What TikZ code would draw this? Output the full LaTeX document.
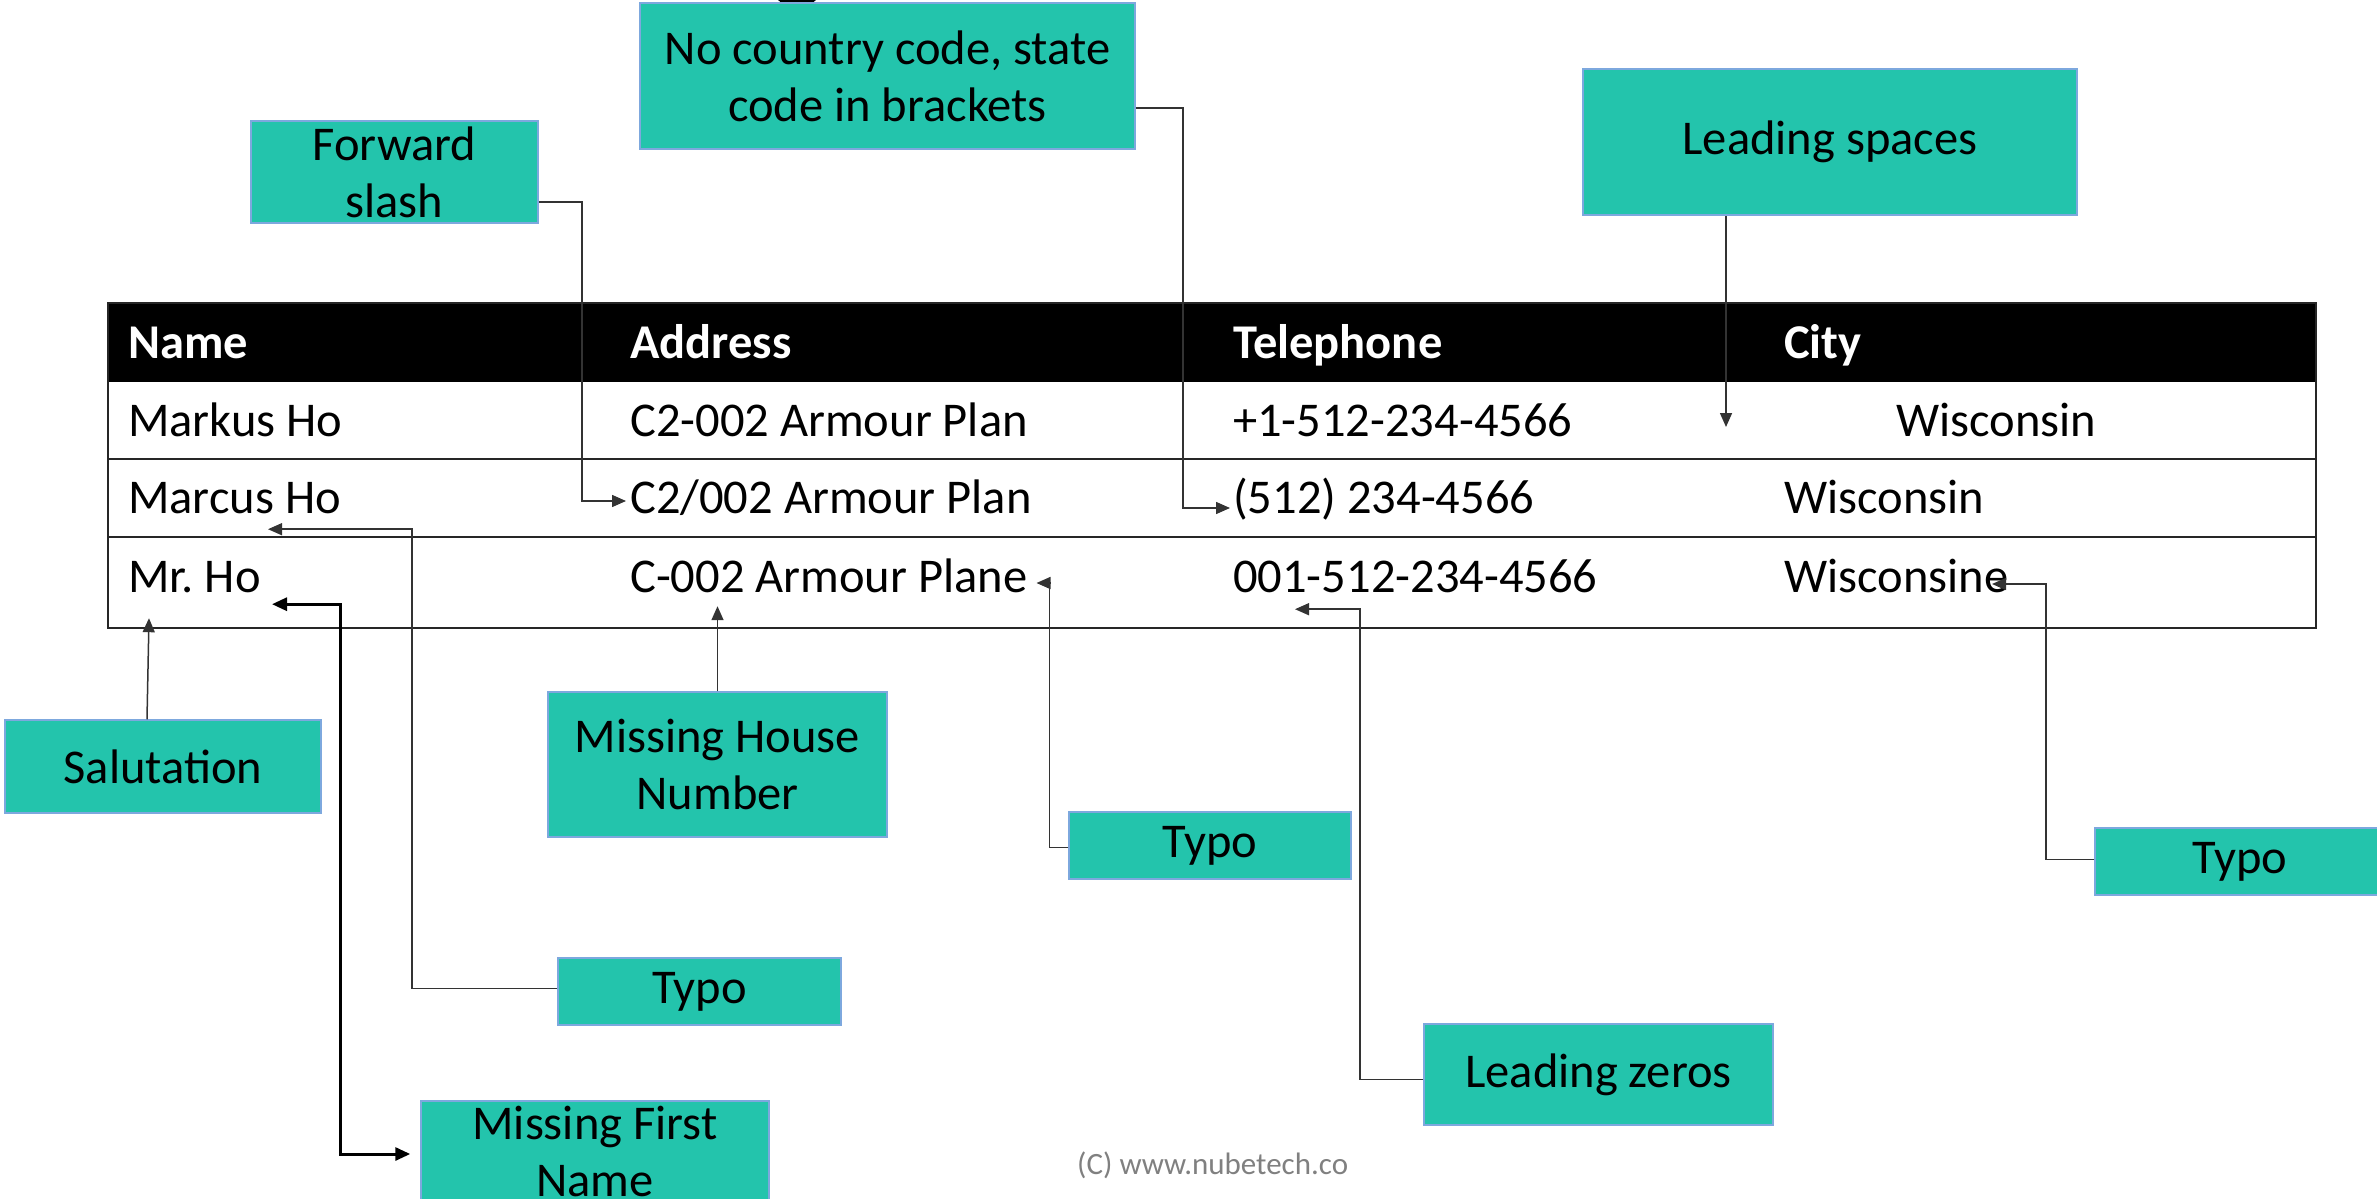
\documentclass[tikz,border=0pt]{standalone}
\usepackage{fontspec}
\setmainfont{Carlito}
\usepackage{xcolor}
\usepackage{tikz}
\usetikzlibrary{arrows.meta,calc}
\definecolor{calloutfill}{RGB}{35,196,172}
\definecolor{calloutedge}{RGB}{125,168,222}
\newcommand{\cellfont}{\fontsize{48.5}{56}\selectfont}
\newcommand{\notefont}{\fontsize{48.5}{57}\selectfont}
\frenchspacing
\tikzset{
  notebox/.style={draw=calloutedge, line width=1.5pt, fill=calloutfill, align=center, inner sep=3pt, font=\notefont},
  notearrow/.style={-{Triangle[length=14pt,width=12pt]}, line width=1.5pt, draw=black!80},
  notedouble/.style={{Triangle[length=15pt,width=13pt]}-{Triangle[length=15pt,width=13pt]}, line width=3pt},
  celltext/.style={anchor=base west, inner sep=0pt, text height=32pt, text depth=8pt, font=\cellfont},
  headtext/.style={celltext, text=white, font=\cellfont\bfseries},
  tableline/.style={draw=black!85, line width=2pt}
}

\begin{document}
\begin{tikzpicture}[x=1pt, y=-1pt]
  \useasboundingbox (0,0) rectangle (2377,1199);
  \clip (0,0) rectangle (2377,1199);

  \fill[black] (108,303) rectangle (2316,382);
  \draw[tableline] (108,303) rectangle (2316,628);
  \draw[tableline] (108,459) -- (2316,459);
  \draw[tableline] (108,537) -- (2316,537);
  \fill[black] (778,0) -- (816,0) -- (811,4) -- (783,4) -- cycle;

  \node[headtext] (hname) at (128,358) {Name};
  \node[headtext] (haddr) at (630,358) {Address};
  \node[headtext] (htel) at (1233,358) {Telephone};
  \node[headtext] (hcity) at (1784,358) {City};

  \node[celltext] (name1) at (128,436) {Markus Ho};
  \node[celltext] (addr1) at (630,436) {C2-002 Armour Plan};
  \node[celltext] (tel1) at (1233,436) {+1-512-234-4566};
  \node[celltext] (city1) at (1896,436) {Wisconsin};

  \node[celltext] (name2) at (128,513) {Marcus Ho};
  \node[celltext] (addr2) at (630,513) {C2/002 Armour Plan};
  \node[celltext] (tel2) at (1233,513) {(512) 234-4566};
  \node[celltext] (city2) at (1784,513) {Wisconsin};

  \node[celltext] (name3) at (128,592) {Mr. Ho};
  \node[celltext] (addr3) at (630,592) {C-002 Armour Plane};
  \node[celltext] (tel3) at (1233,592) {001-512-234-4566};
  \node[celltext] (city3) at (1784,592) {Wisconsine};

  \node[notebox, minimum width=495pt, minimum height=146pt] (nocc) at (887.5,76) {No country code, state\\code in brackets};
  \node[notebox, minimum width=287pt, minimum height=102pt] (fwd) at (394.5,172) {Forward\\slash};
  \node[notebox, minimum width=494pt, minimum height=146pt] (lead) at (1830,142) {Leading spaces};
  \node[notebox, minimum width=316pt, minimum height=93pt] (salut) at (163,766.5) {Salutation};
  \node[notebox, minimum width=339pt, minimum height=145pt] (mhn) at (717.5,764.5) {Missing House\\Number};
  \node[notebox, minimum width=283pt, minimum height=67pt] (typoname) at (699.5,991.5) {Typo};
  \node[notebox, minimum width=348pt, anchor=north, text height=93pt, text depth=30pt] (mfn) at (595,1100) {Missing First\\Name};
  \node[notebox, minimum width=282pt, minimum height=67pt] (typoaddr) at (1210,845.5) {Typo};
  \node[notebox, minimum width=349pt, minimum height=101pt] (lzero) at (1598.5,1074.5) {Leading zeros};
  \node[notebox, minimum width=290pt, minimum height=67pt] (typocity) at (2240,861.5) {Typo};

  \node[anchor=base west, inner sep=0pt, text=black!50, font=\fontsize{31}{36}\selectfont] (copy) at (1077,1174) {(C) www.nubetech.co};

  \coordinate (tiplead) at ($(city1.west)+(-170,3)$);
  \coordinate (tipsal) at ($(name3.south west)+(21,18)$);
  \coordinate (tipmr) at ($(name3.south west)+(144,4)$);
  \coordinate (tipmarcus) at ($(name2.south west)+(140,8)$);
  \coordinate (tiphouse) at ($(addr3.south west)+(89,6)$);
  \coordinate (tipplane) at ($(addr3.east)+(9,3)$);
  \coordinate (tipzero) at ($(tel3.south west)+(62,9)$);
  \coordinate (tipcity) at ($(city3.west)+(208,4)$);

  \draw[notearrow, shorten >=4pt] ([yshift=-30pt]fwd.east) -- ++(43,0) |- (addr2.west);
  \draw[notearrow, shorten >=3pt] ([yshift=-32pt]nocc.east) -- ++(47,0) |- ([yshift=-7pt]tel2.west);
  \draw[notearrow] (lead.south -| tiplead) -- (tiplead);
  \draw[notearrow] ([xshift=-16pt]salut.north) -- (tipsal);
  \draw[notedouble, shorten >=10pt] (tipmr) -- ++(68,0) |- ([yshift=-54pt]mfn.north west);
  \draw[notearrow] ([yshift=3pt]typoname.west) -| ($(tipmarcus)+(144,0)$) -- (tipmarcus);
  \draw[notearrow] (mhn.north) -- (mhn.north |- tiphouse);
  \draw[notearrow] ([yshift=-2pt]typoaddr.west) -| ($(tipplane)+(13,0)$) -- (tipplane);
  \draw[notearrow] ([yshift=-5pt]lzero.west) -| ($(tipzero)+(65,0)$) -- (tipzero);
  \draw[notearrow] ([yshift=2pt]typocity.west) -| ($(tipcity)+(54,0)$) -- (tipcity);
\end{tikzpicture}
\end{document}
